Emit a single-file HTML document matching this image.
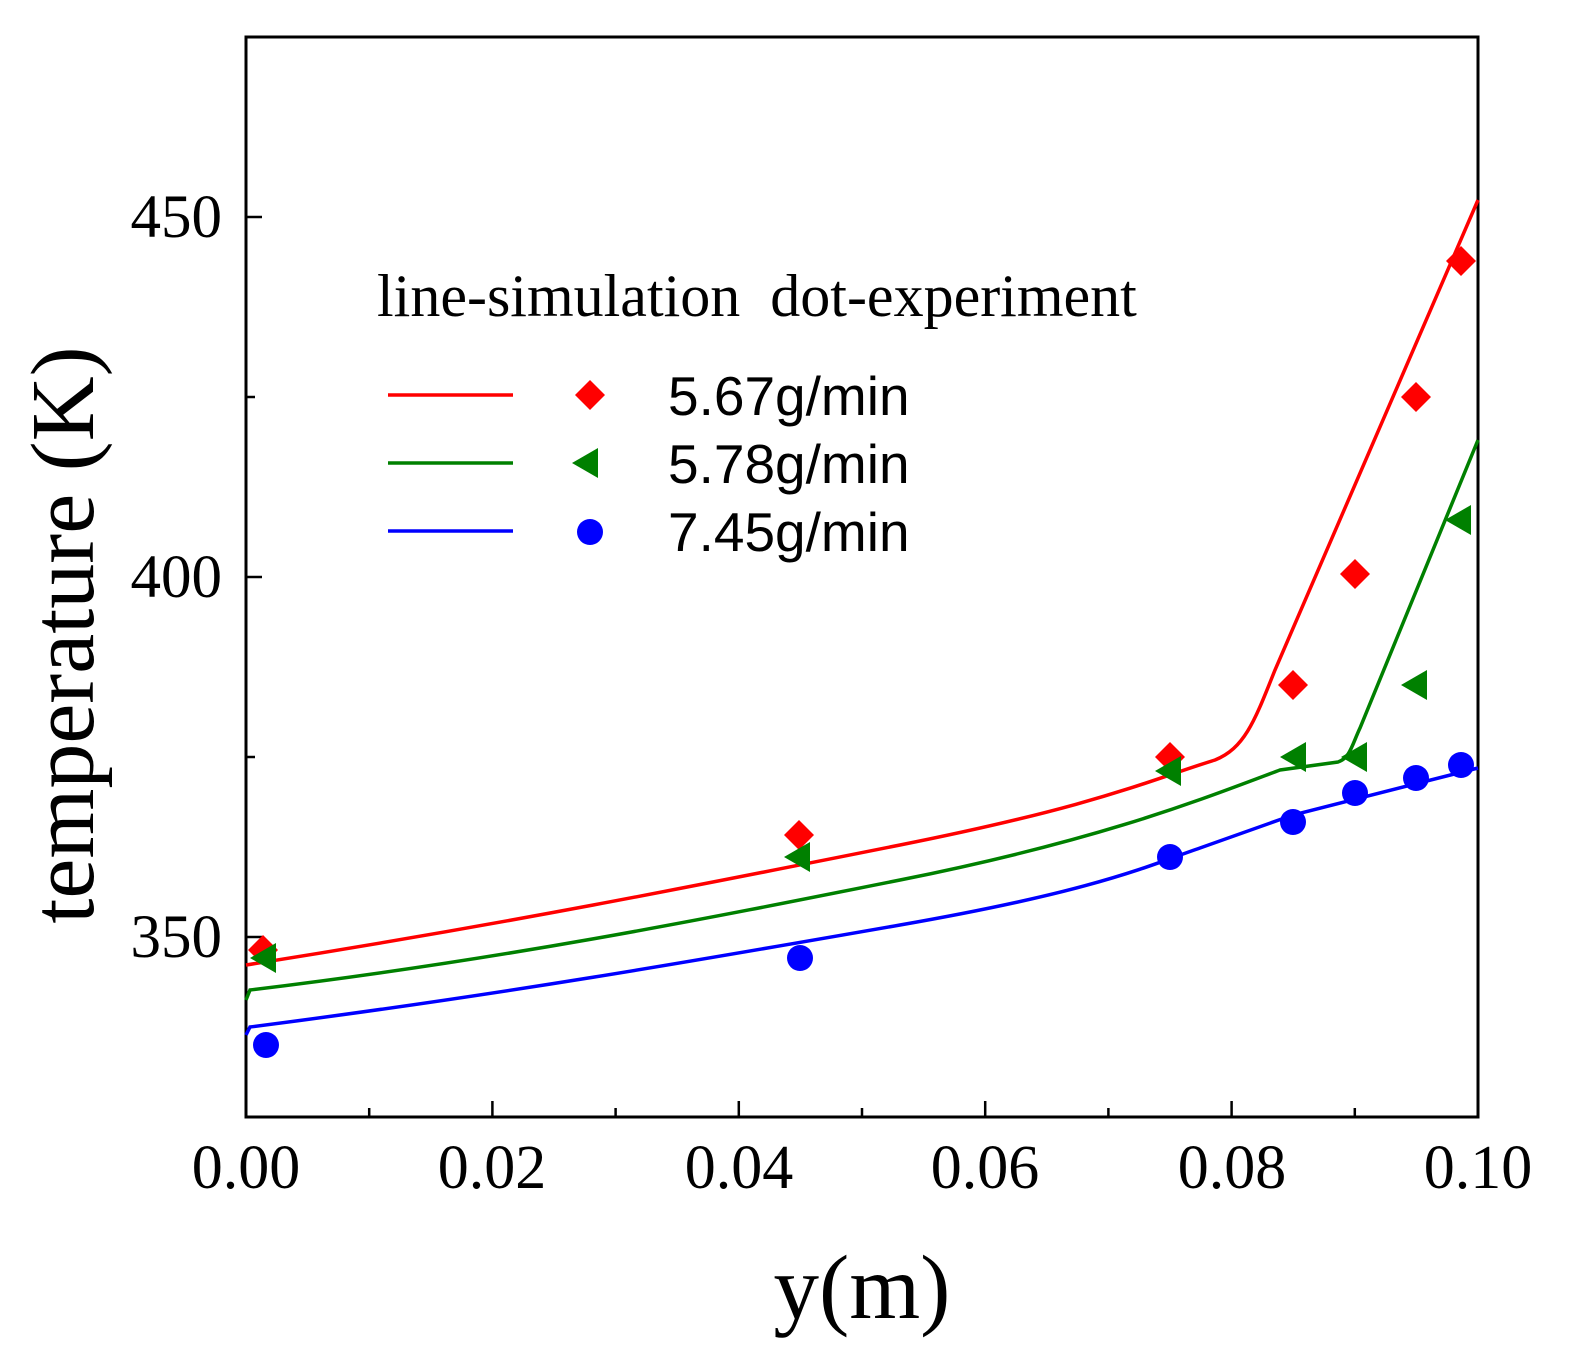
<!DOCTYPE html>
<html><head><style>html,body{margin:0;padding:0;background:#fff}svg{display:block}</style></head>
<body>
<svg width="1569" height="1364" viewBox="0 0 1569 1364" xmlns="http://www.w3.org/2000/svg">
<rect width="1569" height="1364" fill="#fff"/>
<rect x="246" y="37" width="1232" height="1080" fill="none" stroke="#000" stroke-width="3"/>
<g stroke="#000" stroke-width="2.5">
<line x1="492.4" y1="1117" x2="492.4" y2="1101"/><line x1="738.8" y1="1117" x2="738.8" y2="1101"/>
<line x1="985.2" y1="1117" x2="985.2" y2="1101"/><line x1="1231.6" y1="1117" x2="1231.6" y2="1101"/>
<line x1="369.2" y1="1117" x2="369.2" y2="1108"/><line x1="615.6" y1="1117" x2="615.6" y2="1108"/>
<line x1="862" y1="1117" x2="862" y2="1108"/><line x1="1108.4" y1="1117" x2="1108.4" y2="1108"/>
<line x1="1354.8" y1="1117" x2="1354.8" y2="1108"/>
<line x1="246" y1="217" x2="262" y2="217"/><line x1="246" y1="577" x2="262" y2="577"/><line x1="246" y1="937" x2="262" y2="937"/>
<line x1="246" y1="397" x2="255" y2="397"/><line x1="246" y1="757" x2="255" y2="757"/>
</g>
<g font-family="Liberation Serif, serif" font-size="61" fill="#000">
<g text-anchor="end"><text x="222" y="237">450</text><text x="222" y="597">400</text><text x="222" y="957">350</text></g>
<g text-anchor="middle" font-size="62"><text x="246" y="1188">0.00</text><text x="492" y="1188">0.02</text><text x="739" y="1188">0.04</text><text x="985" y="1188">0.06</text><text x="1232" y="1188">0.08</text><text x="1478" y="1188">0.10</text></g>
<text x="862" y="1318" font-size="91" text-anchor="middle">y(m)</text>
<text transform="translate(93,635) rotate(-90)" font-size="90" text-anchor="middle">temperature (K)</text>
<text x="377" y="316" font-size="60" xml:space="preserve">line-simulation  dot-experiment</text>
</g>
<g fill="none" stroke-width="3.5">
<path stroke="#f00" d="M246,965 C500,925 700,885 900,845 S1150,780 1215,760 C1245,748 1255,720 1275,670 L1478,200"/>
<path stroke="#008000" d="M246,1000 L250,990 C500,960 700,920 900,880 S1200,800 1280,770 L1338,762 C1350,758 1352,745 1360,728 L1478,440"/>
<path stroke="#00f" d="M246,1035 L250,1027 C500,995 700,960 900,925 S1150,865 1200,848 L1293,815 L1478,768"/>
<line stroke="#f00" x1="388" y1="395" x2="513" y2="395"/>
<line stroke="#008000" x1="388" y1="463" x2="513" y2="463"/>
<line stroke="#00f" x1="388" y1="531" x2="513" y2="531"/>
</g>
<g fill="#f00">
<path d="M590,380 l15,15 l-15,15 l-15,-15z"/>
<path d="M263,935 l15,15 l-15,15 l-15,-15z"/><path d="M799,820 l15,15 l-15,15 l-15,-15z"/>
<path d="M1170,742 l15,15 l-15,15 l-15,-15z"/><path d="M1293,670 l15,15 l-15,15 l-15,-15z"/>
<path d="M1355,559 l15,15 l-15,15 l-15,-15z"/><path d="M1416,382 l15,15 l-15,15 l-15,-15z"/>
<path d="M1461,246 l15,15 l-15,15 l-15,-15z"/>
</g>
<g fill="#008000">
<path d="M572,463 l26,-15 l0,30z"/>
<path d="M250,958 l26,-15 l0,30z"/><path d="M784,857 l26,-15 l0,30z"/>
<path d="M1155,771 l26,-15 l0,30z"/><path d="M1280,757 l26,-15 l0,30z"/>
<path d="M1341,757 l26,-15 l0,30z"/><path d="M1401,685 l26,-15 l0,30z"/>
<path d="M1445,520 l26,-15 l0,30z"/>
</g>
<g fill="#00f">
<circle cx="590" cy="532" r="13"/>
<circle cx="266" cy="1045" r="13"/><circle cx="800" cy="958" r="13"/>
<circle cx="1170" cy="857" r="13"/><circle cx="1293" cy="822" r="13"/>
<circle cx="1355" cy="793" r="13"/><circle cx="1416" cy="778" r="13"/>
<circle cx="1461" cy="765" r="13"/>
</g>
<g font-family="Liberation Sans, sans-serif" font-size="55" fill="#000">
<text x="668" y="415">5.67g/min</text><text x="668" y="483">5.78g/min</text><text x="668" y="551">7.45g/min</text>
</g>
</svg>
</body></html>
